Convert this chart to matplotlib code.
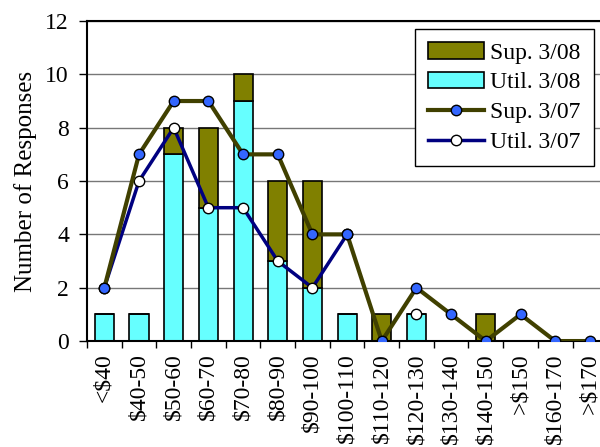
import matplotlib
matplotlib.use("Agg")
import matplotlib.pyplot as plt
import numpy as np

categories = ["<$40", "$40-50", "$50-60", "$60-70", "$70-80", "$80-90", "$90-100",
              "$100-110", "$110-120", "$120-130", "$130-140", "$140-150", ">$150",
              "$160-170", ">$170"]
util_08 = [1, 1, 7, 5, 9, 3, 2, 1, 0, 1, 0, 0, 0, 0, 0]
sup_08_extra = [0, 0, 1, 3, 1, 3, 4, 0, 1, 0, 0, 1, 0, 0, 0]
sup_07 = [2, 7, 9, 9, 7, 7, 4, 4, 0, 2, 1, 0, 1, 0, 0]
util_07 = [2, 6, 8, 5, 5, 3, 2, 4, np.nan, 1, np.nan, np.nan, np.nan, np.nan, np.nan]

plt.rcParams['font.family'] = ['Liberation Serif', 'DejaVu Serif']
fig = plt.figure(figsize=(6, 4.47), dpi=100)
ax = fig.add_axes([0.145, 0.237, 0.867, 0.716])

x = np.arange(len(categories))
w = 0.55
ax.bar(x, util_08, width=w, color="#66FFFF", edgecolor="black", linewidth=1.2,
       label="Util. 3/08", zorder=2)
ax.bar(x, sup_08_extra, width=w, bottom=util_08, color="#808000", edgecolor="black",
       linewidth=1.2, label="Sup. 3/08", zorder=2)
ax.plot(x, util_07, color="#000080", linewidth=2.5, marker="o", markersize=7.5,
        markerfacecolor="white", markeredgecolor="black", markeredgewidth=1,
        label="Util. 3/07", zorder=3)
ax.plot(x, sup_07, color="#404000", linewidth=3, marker="o", markersize=7.5,
        markerfacecolor="#3366FF", markeredgecolor="black", markeredgewidth=1,
        label="Sup. 3/07", zorder=4)

ax.set_xlim(-0.5, len(categories) - 0.5)
ax.set_ylim(0, 12)
ax.set_yticks(range(0, 13, 2))
ax.tick_params(axis='y', labelsize=17, direction='out', length=6, width=1, pad=7)
ax.set_xticks(x)
ax.set_xticklabels(categories, rotation=90, fontsize=17)
ax.tick_params(axis='x', which='major', length=0, pad=9)
ax.set_xticks(np.arange(-0.5, len(categories), 1), minor=True)
ax.tick_params(axis='x', which='minor', direction='out', length=5, width=1)
ax.yaxis.grid(True, color="#777777", linewidth=1)
ax.set_axisbelow(True)
for s in ["left", "bottom", "top"]:
    ax.spines[s].set_linewidth(1.5)
ax.spines["right"].set_visible(False)
ax.set_ylabel("Number of Responses", fontsize=18, labelpad=6)

h, l = ax.get_legend_handles_labels()
order = [l.index("Sup. 3/08"), l.index("Util. 3/08"), l.index("Sup. 3/07"), l.index("Util. 3/07")]
leg = ax.legend([h[i] for i in order], [l[i] for i in order], loc="upper right",
                bbox_to_anchor=(0.974, 0.975), fontsize=17, frameon=True, fancybox=False,
                edgecolor="black", framealpha=1, handlelength=2.4, borderpad=0.55,
                labelspacing=0.35, handletextpad=0.25, borderaxespad=0)
leg.get_frame().set_linewidth(1)

fig.savefig("out.png", dpi=100)
